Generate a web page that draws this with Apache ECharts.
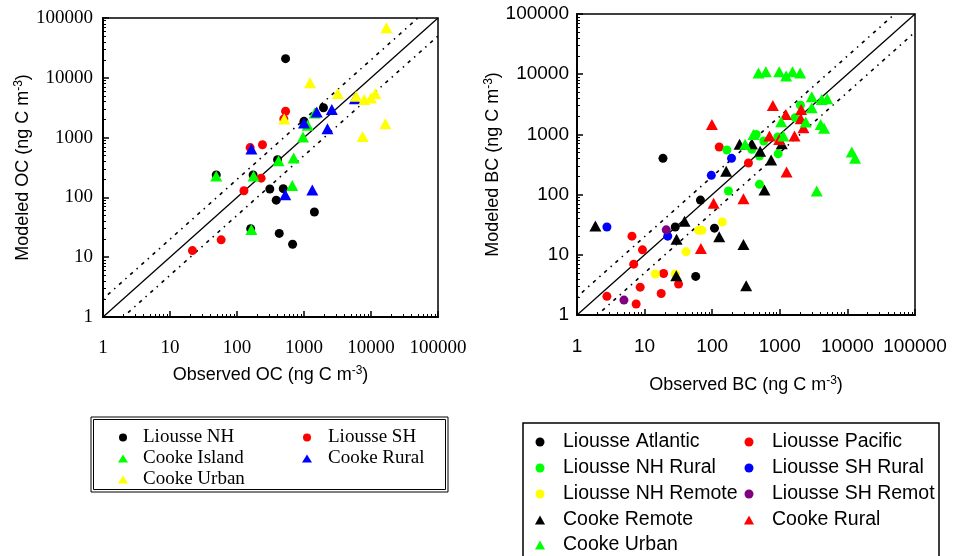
<!DOCTYPE html>
<html><head><meta charset="utf-8">
<script src="https://cdn.jsdelivr.net/npm/echarts@6/dist/echarts.min.js"></script>
<style>html,body{margin:0;padding:0;background:#fff}#c{width:955px;height:556px}</style>
</head><body><div id="c"></div>
<script>
// ---- Left panel: OC (observed, modeled) ----
const liousseNH_OC = [[531,20900],[1950,3150],[49,237],[174,237],[403,428],[309,138],[490,140],[385,90],[1430,57],[427,25],[676,16.5],[160,30],[1000,1870]];
const liousseSH_OC = [[531,2760],[500,2050],[157,680],[240,760],[229,210],[127,129],[58,19.5],[21.6,12.9]];
const cookeIsland_OC = [[49,228],[177,228],[417,410],[700,457],[966,1020],[1135,1610],[1445,2580],[668,158],[164,29]];
const cookeRural_OC = [[164,645],[1000,1760],[1550,2690],[2600,2950],[2240,1410],[5750,4480],[525,111],[1330,133]];
const cookeUrban_OC = [[17000,69000],[1230,8250],[3200,5450],[6000,4900],[7940,4330],[10000,4600],[11600,5450],[507,2050],[7500,1040],[16400,1700]];

// ---- Right panel: BC (observed, modeled) ----
const liousseAtlantic_BC = [[18.7,400],[67,81],[28.4,29],[108,27.7],[57,4.37]];
const liousssePacific_BC = [[127,618],[344,335],[6.5,20.4],[9.3,12.1],[6.9,7.0],[19.1,4.9],[8.6,2.9],[17.6,2.28],[31.8,3.26],[2.77,2.04],[7.5,1.52]];
const liousseNHRural_BC = [[165,550],[174,115],[500,148],[447,1000],[386,565],[580,776],[500,437],[935,904],[945,476],[1690,1890],[2020,3060]];
const liousseSHRural_BC = [[2.77,29],[22,20.4],[97,209],[193,400]];
const liousseNHRemote_BC = [[14.4,4.8],[28.4,4.8],[41,11.2],[63,25.5],[70.5,25.5],[141,35]];
const liousseSHRemote_BC = [[4.95,1.77],[20.9,26]];
const cookeRemote_BC = [[1.87,30],[39,36],[29.7,18.2],[29.4,4.5],[127,20],[290,14.8],[318,3.06],[161,244],[593,119],[745,376],[512,524],[254,683],[386,700],[1070,700]];
const cookeRural_BC = [[99,1465],[105,72],[290,85],[68,12.7],[789,3020],[1230,2140],[2070,2600],[2040,1820],[2240,1290],[1650,940],[980,826],[703,940],[1260,238]];
const cookeUrban_BC = [[484,10500],[621,10960],[980,10960],[1240,9300],[1540,10960],[2000,10500],[2970,4210],[4170,3800],[5030,3900],[2970,2760],[1050,1620],[2420,1600],[4030,1465],[4520,1260],[1130,940],[408,1000],[307,683],[11600,510],[13000,400],[3520,115]];

// reference lines (1:1 and factor of 2)
const oneToOne = [[1,1],[100000,100000]];
const twoTimes = [[1,2],[50000,100000]];
const halfTimes = [[2,1],[100000,50000]];

const axisMin = 1, axisMax = 100000;
const minorVals = [];
for (let d = 1; d < 100000; d *= 10) for (let k = 2; k <= 9; k++) minorVals.push(d * k);

const SERIF = '"Liberation Serif","Times New Roman",serif';
const SANS = '"Liberation Sans",Arial,Helvetica,sans-serif';

function mainAxis(grid, font, labelMargin, name, nameGap, pos) {
  return {
    type: 'log', logBase: 10, gridIndex: grid, min: axisMin, max: axisMax, position: pos,
    axisLine: {show: true, onZero: false, lineStyle: {color: '#000', width: 2}},
    axisTick: {show: true, inside: true, length: 6, lineStyle: {color: '#000', width: 1.5}},
    axisLabel: {color: '#000', fontFamily: font, fontSize: 19, margin: labelMargin,
      formatter: v => String(Math.round(v))},
    splitLine: {show: false},
    name: name, nameLocation: 'middle', nameGap: nameGap,
    nameTextStyle: {color: '#000', fontFamily: SANS, fontSize: 18,
      rich: {sup: {fontFamily: SANS, fontSize: 12, color: '#000', padding: [0, 0, 8, 0]}}}
  };
}
function minorAxis(grid, pos) {
  return {
    type: 'log', logBase: 10, gridIndex: grid, min: axisMin, max: axisMax, position: pos, offset: 0,
    axisLine: {show: false, onZero: false}, axisLabel: {show: false}, splitLine: {show: false},
    axisTick: {show: true, inside: true, length: 3, customValues: minorVals, lineStyle: {color: '#000', width: 1}}
  };
}

function refLine(data, xi, dashed) {
  return {type: 'line', data: data, xAxisIndex: xi, yAxisIndex: xi, symbol: 'none', silent: true,
    z: 1, clip: true, legendHoverLink: false,
    lineStyle: {color: '#000', width: dashed ? 1.6 : 1.3, type: dashed ? [1.5, 5, 3.5, 5] : 'solid'}};
}
function pts(name, data, xi, color, shape) {
  return {type: 'scatter', name: name, data: data, xAxisIndex: xi, yAxisIndex: xi,
    symbol: shape, symbolSize: shape === 'circle' ? 9 : [12, 11], itemStyle: {color: color, opacity: 1}, z: 3};
}

const leftLegendFont = {fontFamily: SERIF, fontSize: 19, color: '#000', lineHeight: 19};
const rightLegendFont = {fontFamily: SANS, fontSize: 19.5, color: '#000', lineHeight: 20};

function li(name, icon, color) { return {name: name, icon: icon, itemStyle: {color: color}}; }
function leftLeg(x, pad, items) {
  return {orient: 'vertical', left: x, top: 428, padding: 0, itemWidth: 10, itemHeight: 8, itemGap: 2,
    textStyle: Object.assign({padding: [0, 0, 0, pad]}, leftLegendFont), data: items};
}
function rightLeg(x, top, items, extra) {
  return {orient: 'vertical', left: x, top: top, padding: 0, itemWidth: 10, itemHeight: 9, itemGap: 6,
    textStyle: Object.assign({padding: [0, 0, 0, 13]}, rightLegendFont, extra || {}), data: items};
}

const option = {
  animation: false,
  backgroundColor: '#fff',
  grid: [
    {left: 103, top: 18, width: 335, height: 299, show: true, borderColor: '#000', borderWidth: 1.5},
    {left: 577, top: 14, width: 338, height: 301, show: true, borderColor: '#000', borderWidth: 1.5}
  ],
  xAxis: [
    mainAxis(0, SERIF, 22, 'Observed OC (ng C m{sup|-3})', 48, 'bottom'),
    minorAxis(0, 'bottom'),
    mainAxis(1, SANS, 22, 'Observed BC (ng C m{sup|-3})', 60, 'bottom'),
    minorAxis(1, 'bottom')
  ],
  yAxis: [
    mainAxis(0, SERIF, 10, 'Modeled OC (ng C m{sup|-3})', 69, 'left'),
    minorAxis(0, 'left'),
    mainAxis(1, SANS, 8, 'Modeled BC (ng C m{sup|-3})', 74, 'left'),
    minorAxis(1, 'left')
  ],
  legend: [
    leftLeg(118, 10, [li('Liousse NH', 'circle', '#000'), li('Cooke Island', 'triangle', '#00ff00'), li('Cooke Urban', 'triangle', '#ffff00')]),
    leftLeg(302, 11, [li('Liousse SH', 'circle', '#ff0000'), li('Cooke Rural', 'triangle', '#0000ff')]),
    rightLeg(535, 432, [li('Liousse Atlantic', 'circle', '#000'), li('Liousse NH Rural', 'circle', '#00ff00'),
      li('Liousse NH Remote', 'circle', '#ffff00'), li('Cooke Remote', 'triangle', '#000')]),
    rightLeg(535, 535, [li('Cooke Urban', 'triangle', '#00ff00')]),
    rightLeg(744, 432, [li('Liousse Pacific', 'circle', '#ff0000'), li('Liousse SH Rural', 'circle', '#0000ff'),
      li('Liousse SH Remote', 'circle', '#800080'), li('Cooke Rural', 'triangle', '#ff0000')],
      {width: 167, overflow: 'truncate', ellipsis: ''})
  ],
  graphic: [
    {type: 'rect', shape: {x: 91, y: 417, width: 357, height: 75}, style: {fill: 'none', stroke: '#000', lineWidth: 1}, silent: true},
    {type: 'rect', shape: {x: 93.5, y: 419.5, width: 352, height: 70}, style: {fill: 'none', stroke: '#000', lineWidth: 1}, silent: true},
    {type: 'rect', shape: {x: 523, y: 423, width: 416, height: 160}, style: {fill: 'none', stroke: '#000', lineWidth: 1.5}, silent: true}
  ],
  series: [
    refLine(oneToOne, 0, false), refLine(twoTimes, 0, true), refLine(halfTimes, 0, true),
    pts('Liousse NH', liousseNH_OC, 0, '#000', 'circle'),
    pts('Liousse SH', liousseSH_OC, 0, '#ff0000', 'circle'),
    pts('Cooke Island', cookeIsland_OC, 0, '#00ff00', 'triangle'),
    pts('Cooke Rural', cookeRural_OC, 0, '#0000ff', 'triangle'),
    pts('Cooke Urban', cookeUrban_OC, 0, '#ffff00', 'triangle'),

    refLine(oneToOne, 2, false), refLine(twoTimes, 2, true), refLine(halfTimes, 2, true),
    pts('Liousse Atlantic', liousseAtlantic_BC, 2, '#000', 'circle'),
    pts('Liousse Pacific', liousssePacific_BC, 2, '#ff0000', 'circle'),
    pts('Liousse NH Rural', liousseNHRural_BC, 2, '#00ff00', 'circle'),
    pts('Liousse SH Rural', liousseSHRural_BC, 2, '#0000ff', 'circle'),
    pts('Liousse NH Remote', liousseNHRemote_BC, 2, '#ffff00', 'circle'),
    pts('Liousse SH Remote', liousseSHRemote_BC, 2, '#800080', 'circle'),
    pts('Cooke Remote', cookeRemote_BC, 2, '#000', 'triangle'),
    pts('Cooke Rural', cookeRural_BC, 2, '#ff0000', 'triangle'),
    pts('Cooke Urban', cookeUrban_BC, 2, '#00ff00', 'triangle')
  ]
};
const chart = echarts.init(document.getElementById('c'), null, {renderer: 'canvas'});
chart.setOption(option);
</script>
</body></html>
